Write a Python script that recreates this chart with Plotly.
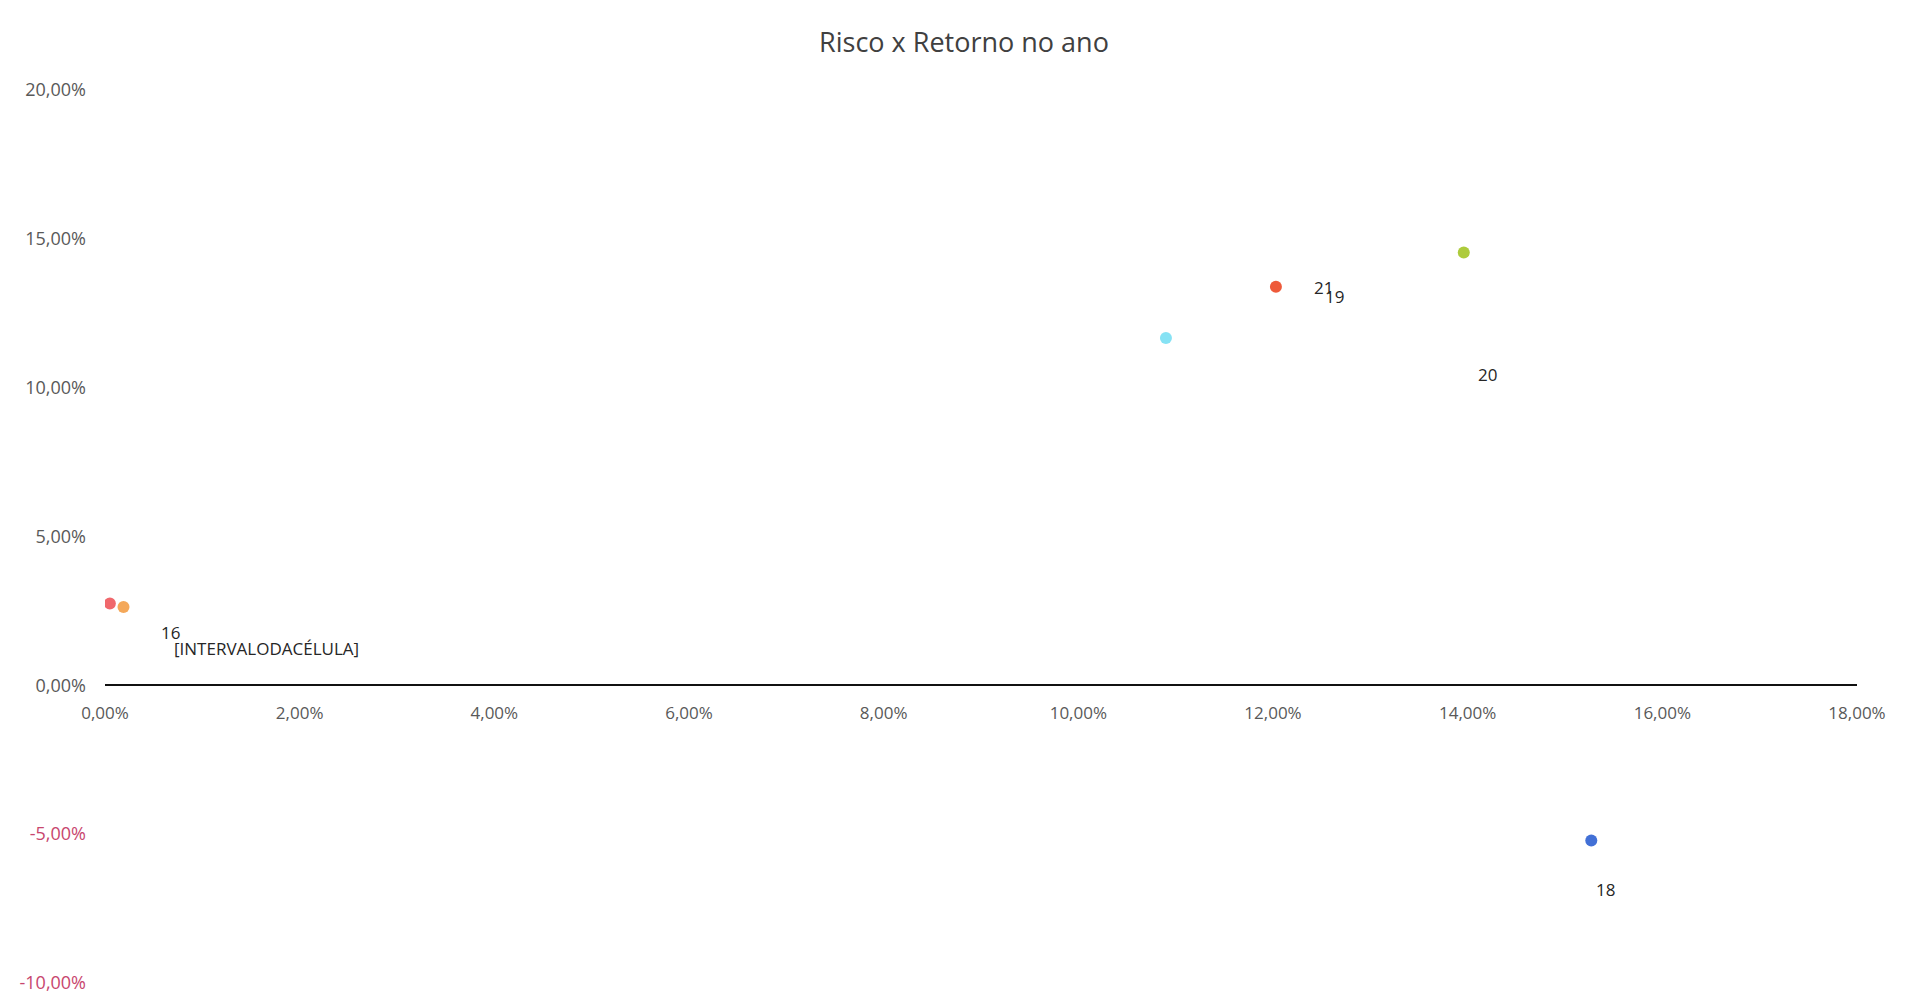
import plotly.graph_objects as go

# Data (risk, return) as fractions
risk = [0.0005, 0.0019, 0.1090, 0.1203, 0.1396, 0.1527]
ret = [0.0275, 0.0263, 0.1167, 0.1339, 0.1454, -0.0521]
point_colors = ["#F0686C", "#F4A85A", "#86E2F4", "#EE5A3A", "#ADCB3C", "#4270D6"]
point_labels = ["[INTERVALODACÉLULA]", "16", "19", "21", "20", "18"]
label_shift_x = [157, 47, 169, 48, 24, 14]
label_shift_y = [-45, -25, 41, -1, -122, -49]

y_ticks = [-0.10, -0.05, 0.0, 0.05, 0.10, 0.15, 0.20]
x_ticks = [0.0, 0.02, 0.04, 0.06, 0.08, 0.10, 0.12, 0.14, 0.16, 0.18]


def pct(v):
    s = f"{v*100:.2f}".replace(".", ",")
    return s + "%"


y_text = []
for v in y_ticks:
    t = pct(v)
    if v < 0:
        t = f'<span style="color:#C8466E">{t}</span>'
    y_text.append(t)
x_text = [pct(v) for v in x_ticks]

fig = go.Figure()
fig.add_trace(go.Scatter(
    x=risk, y=ret, mode="markers",
    marker=dict(size=12, color=point_colors, line=dict(width=0)),
    showlegend=False, hoverinfo="skip",
))

for xv, yv, lab, dx, dy in zip(risk, ret, point_labels, label_shift_x, label_shift_y):
    fig.add_annotation(x=xv, y=yv, text=lab, showarrow=False,
                       xshift=dx, yshift=dy,
                       font=dict(size=17, color="#262626", family="Open Sans"))

fig.update_layout(
    width=1912, height=1007,
    paper_bgcolor="white", plot_bgcolor="white",
    margin=dict(l=97, r=63, t=82, b=32),
    title=dict(text="Risco x Retorno no ano", x=0.5, xanchor="center",
               y=1 - 35 / 1007, yanchor="middle",
               font=dict(size=27, color="#404040", family="Open Sans")),
    font=dict(family="Open Sans", color="#595959"),
    xaxis=dict(range=[0, 0.18], tickvals=x_ticks, ticktext=x_text,
               showgrid=False, zeroline=False, showline=True,
               linecolor="#111111", linewidth=2, ticks="",
               anchor="free", position=1/3, ticklabelstandoff=12,
               tickfont=dict(size=17, color="#595959")),
    yaxis=dict(range=[-0.10, 0.20], tickvals=y_ticks, ticktext=y_text,
               showgrid=False, zeroline=False, showline=False, ticks="",
               ticklabelstandoff=18,
               tickfont=dict(size=18, color="#595959")),
)

fig.write_html("out.html")
